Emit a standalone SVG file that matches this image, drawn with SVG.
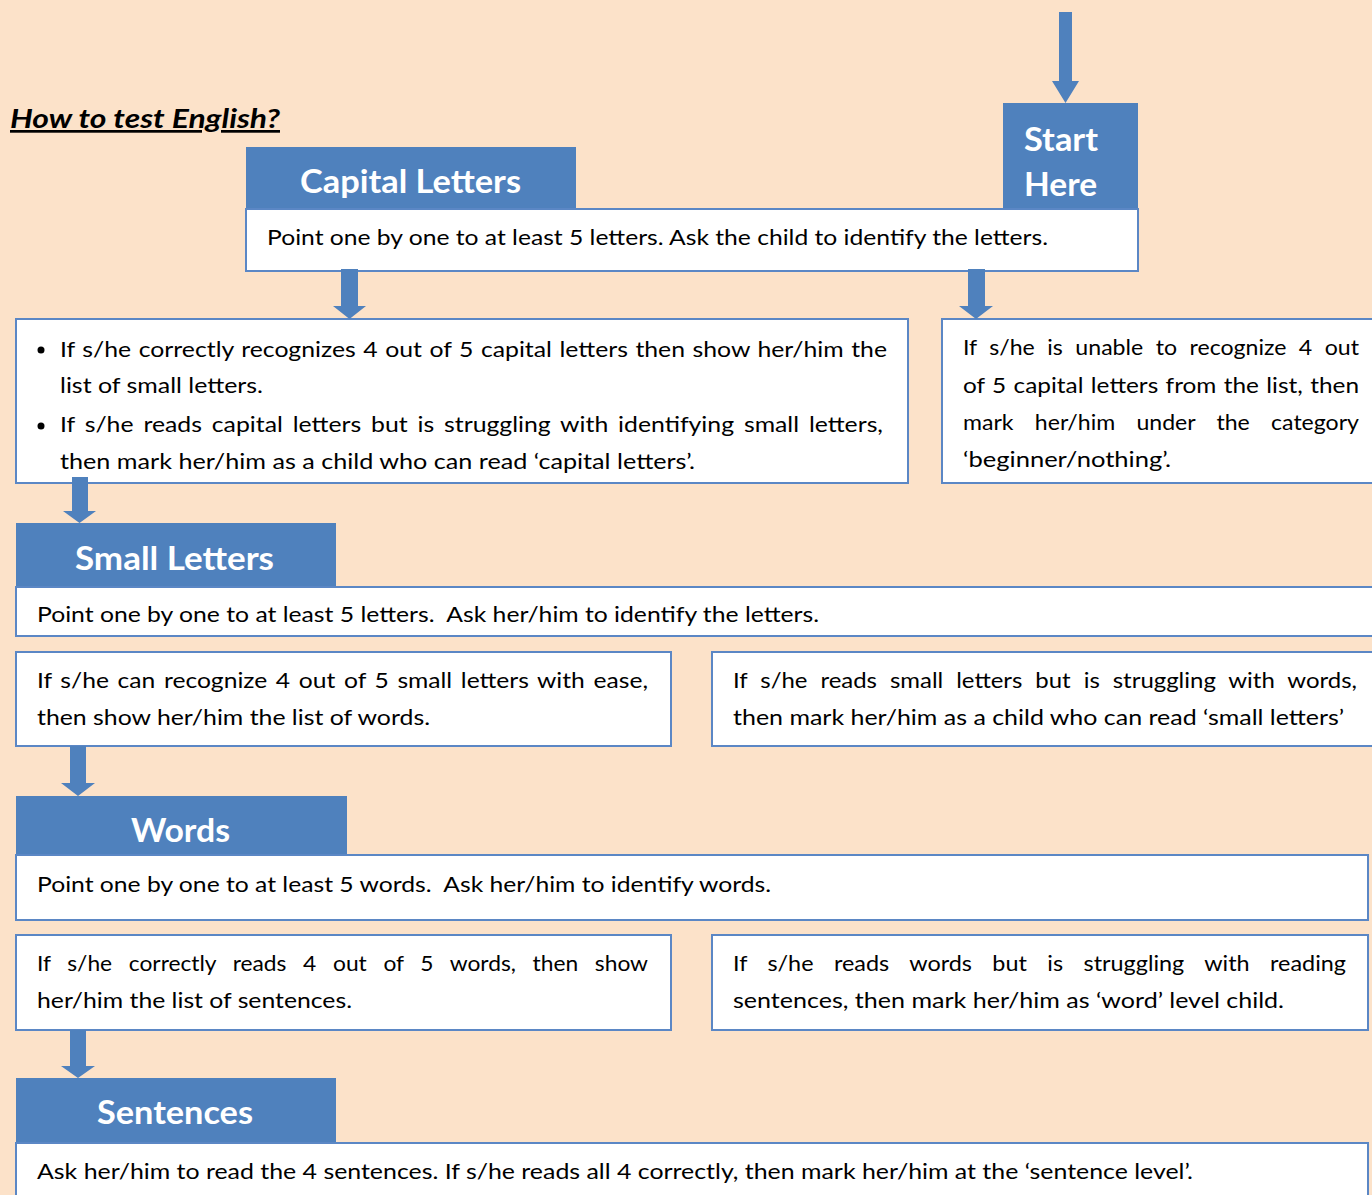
<svg xmlns="http://www.w3.org/2000/svg" width="1372" height="1195" viewBox="0 0 1372 1195">
<style>
.hdr{fill:#4F81BD}
.box{fill:#FFFFFF;stroke:#5B87C5;stroke-width:2}
.t{font-family:Lato,"Liberation Sans",sans-serif;font-size:21px;fill:#000000}
.h{font-family:Lato,"Liberation Sans",sans-serif;font-size:32px;font-weight:bold;fill:#FFFFFF}
.title{font-family:Lato,"Liberation Sans",sans-serif;font-size:27px;font-weight:bold;font-style:italic;fill:#000000;text-decoration:underline}
.arrow{fill:#4F81BD}
</style>
<rect x="0" y="0" width="1372" height="1195" fill="#FCE2C9"/>

<text class="title" x="10" y="128" textLength="270" lengthAdjust="spacingAndGlyphs">How to test English?</text>

<g id="start-here">
  <rect class="hdr" x="1003" y="103" width="135" height="107"/>
  <text class="h" x="1024" y="151" textLength="74" lengthAdjust="spacingAndGlyphs">Start</text>
  <text class="h" x="1024" y="196" textLength="73" lengthAdjust="spacingAndGlyphs">Here</text>
</g>

<g id="capital-letters">
  <rect class="hdr" x="246" y="147" width="330" height="63"/>
  <text class="h" x="300" y="193" textLength="221" lengthAdjust="spacingAndGlyphs">Capital Letters</text>
  <rect class="box" x="246" y="209" width="892" height="62"/>
  <text class="t" x="267" y="245" textLength="781" lengthAdjust="spacingAndGlyphs">Point one by one to at least 5 letters. Ask the child to identify the letters.</text>
</g>

<g id="capital-pass">
  <rect class="box" x="16" y="319" width="892" height="164"/>
  <circle cx="41" cy="350" r="3.5" fill="#000"/>
  <circle cx="41" cy="426" r="3.5" fill="#000"/>
  <text class="t" x="60" y="357" word-spacing="1" textLength="827" lengthAdjust="spacingAndGlyphs">If s/he correctly recognizes 4 out of 5 capital letters then show her/him the</text>
  <text class="t" x="60" y="393" textLength="203" lengthAdjust="spacingAndGlyphs">list of small letters.</text>
  <text class="t" x="60" y="432" word-spacing="3" textLength="823" lengthAdjust="spacingAndGlyphs">If s/he reads capital letters but is struggling with identifying small letters,</text>
  <text class="t" x="60" y="469" textLength="635" lengthAdjust="spacingAndGlyphs">then mark her/him as a child who can read ‘capital letters’.</text>
</g>

<g id="capital-fail">
  <rect class="box" x="942" y="319" width="440" height="164"/>
  <text class="t" x="963" y="355" word-spacing="6" textLength="396" lengthAdjust="spacingAndGlyphs">If s/he is unable to recognize 4 out</text>
  <text class="t" x="963" y="393" word-spacing="1" textLength="396" lengthAdjust="spacingAndGlyphs">of 5 capital letters from the list, then</text>
  <text class="t" x="963" y="430" word-spacing="14" textLength="396" lengthAdjust="spacingAndGlyphs">mark her/him under the category</text>
  <text class="t" x="963" y="467" textLength="208" lengthAdjust="spacingAndGlyphs">‘beginner/nothing’.</text>
</g>

<g id="small-letters">
  <rect class="hdr" x="16" y="523" width="320" height="65"/>
  <text class="h" x="75" y="570" textLength="199" lengthAdjust="spacingAndGlyphs">Small Letters</text>
  <rect class="box" x="16" y="587" width="1366" height="49"/>
  <text class="t" x="37" y="622" textLength="782" lengthAdjust="spacingAndGlyphs" xml:space="preserve">Point one by one to at least 5 letters.  Ask her/him to identify the letters.</text>
</g>

<g id="small-pass">
  <rect class="box" x="16" y="652" width="655" height="94"/>
  <text class="t" x="37" y="688" word-spacing="2" textLength="611" lengthAdjust="spacingAndGlyphs">If s/he can recognize 4 out of 5 small letters with ease,</text>
  <text class="t" x="37" y="725" textLength="393" lengthAdjust="spacingAndGlyphs">then show her/him the list of words.</text>
</g>

<g id="small-fail">
  <rect class="box" x="712" y="652" width="670" height="94"/>
  <text class="t" x="733" y="688" word-spacing="6" textLength="624" lengthAdjust="spacingAndGlyphs">If s/he reads small letters but is struggling with words,</text>
  <text class="t" x="733" y="725" textLength="611" lengthAdjust="spacingAndGlyphs">then mark her/him as a child who can read ‘small letters’</text>
</g>

<g id="words">
  <rect class="hdr" x="16" y="796" width="331" height="59"/>
  <text class="h" x="131" y="842" textLength="99" lengthAdjust="spacingAndGlyphs">Words</text>
  <rect class="box" x="16" y="855" width="1352" height="65"/>
  <text class="t" x="37" y="892" textLength="734" lengthAdjust="spacingAndGlyphs" xml:space="preserve">Point one by one to at least 5 words.  Ask her/him to identify words.</text>
</g>

<g id="words-pass">
  <rect class="box" x="16" y="935" width="655" height="95"/>
  <text class="t" x="37" y="971" word-spacing="10" textLength="611" lengthAdjust="spacingAndGlyphs">If s/he correctly reads 4 out of 5 words, then show</text>
  <text class="t" x="37" y="1008" textLength="315" lengthAdjust="spacingAndGlyphs">her/him the list of sentences.</text>
</g>

<g id="words-fail">
  <rect class="box" x="712" y="935" width="656" height="95"/>
  <text class="t" x="733" y="971" word-spacing="13" textLength="613" lengthAdjust="spacingAndGlyphs">If s/he reads words but is struggling with reading</text>
  <text class="t" x="733" y="1008" textLength="551" lengthAdjust="spacingAndGlyphs">sentences, then mark her/him as ‘word’ level child.</text>
</g>

<g id="sentences">
  <rect class="hdr" x="16" y="1078" width="320" height="65"/>
  <text class="h" x="97" y="1124" textLength="156" lengthAdjust="spacingAndGlyphs">Sentences</text>
  <rect class="box" x="16" y="1143" width="1352" height="70"/>
  <text class="t" x="37" y="1179" textLength="1156" lengthAdjust="spacingAndGlyphs">Ask her/him to read the 4 sentences. If s/he reads all 4 correctly, then mark her/him at the ‘sentence level’.</text>
</g>

<g id="connectors">
  <path class="arrow" d="M1059,12 H1072 V81 H1079 L1065.5,103 L1052,81 H1059 Z"/>
  <path class="arrow" d="M341,269 H358 V306 H366 L349.5,319 L333,306 H341 Z"/>
  <path class="arrow" d="M968,269 H985 V306 H993 L976,319 L959,306 H968 Z"/>
  <path class="arrow" d="M72,477 H88 V511 H96 L79.5,523 L63,511 H72 Z"/>
  <path class="arrow" d="M70,746 H86 V783 H95 L78,796 L61,783 H70 Z"/>
  <path class="arrow" d="M70,1030 H86 V1066 H95 L78,1078 L61,1066 H70 Z"/>
</g>
</svg>
